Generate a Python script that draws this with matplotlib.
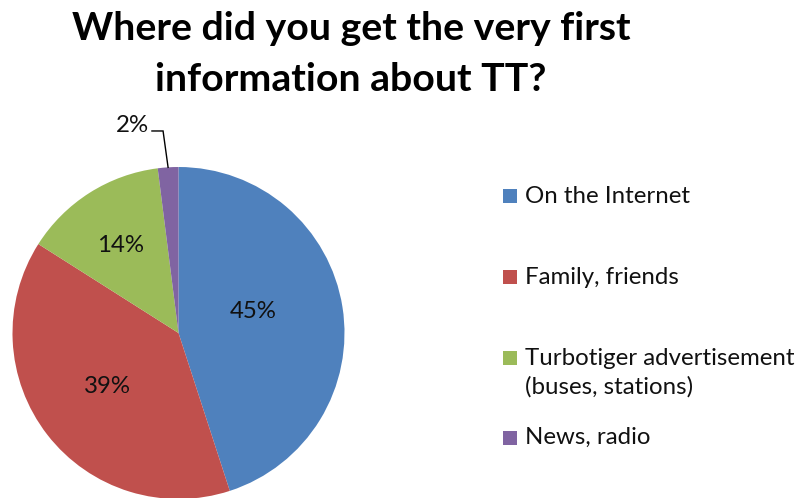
import matplotlib
matplotlib.use("Agg")
import matplotlib.pyplot as plt
from matplotlib.patches import Rectangle
import numpy as np

# Survey answers
categories = [
    "On the Internet",
    "Family, friends",
    "Turbotiger advertisement\n(buses, stations)",
    "News, radio",
]
shares = [45, 39, 14, 2]
colors = ["#4F81BD", "#C0504D", "#9BBB59", "#8064A2"]
title = "Where did you get the very first\ninformation about TT?"

FONT = "Lato"
W, H = 805, 498
fig = plt.figure(figsize=(W / 100, H / 100), dpi=100)
fig.patch.set_facecolor("white")


def fx(px):
    return px / W


def fy(py):
    return 1 - py / H


# Pie placement (pixels): centre and radius
cx, cy, r = 178.5, 333, 166
ax = fig.add_axes([fx(cx - r), fy(cy + r), 2 * r / W, 2 * r / H])
wedges, _ = ax.pie(shares, colors=colors, startangle=90, counterclock=False,
                   radius=1, wedgeprops=dict(linewidth=0))
ax.set_xlim(-1, 1)
ax.set_ylim(-1, 1)
ax.axis("off")

# Percentage labels (data units, pie radius = 1)
label_pos = [(0.449, 0.127), (-0.431, -0.325), (-0.352, 0.530), (-0.280, 1.253)]
lab_fs = 17.3
for v, (x, y) in zip(shares, label_pos):
    ax.text(x, y, f"{v}%", ha="center", va="center", fontsize=lab_fs,
            family=FONT, color="#111111", clip_on=False)

# Leader line for the small slice
th = np.deg2rad(90 - 360 * (sum(shares[:-1]) + shares[-1] / 2) / 100)
ex, ey = np.cos(th), np.sin(th)
ax.plot([-0.160, -0.093, ex], [1.217, 1.217, ey], color="black", lw=1.0,
        clip_on=False, solid_joinstyle="miter")

# Title
title_lines = title.split("\n")
for line, base in zip(title_lines, [40, 91]):
    fig.text(fx(351), fy(base), line, ha="center", va="baseline",
             fontsize=28.3, fontweight="bold", family=FONT, color="black")

# Legend
baselines = [203, 284, 365, 444]
box_centres = [196, 277, 358, 438]
sq = 14
for lab, col, b, c in zip(categories, colors, baselines, box_centres):
    fig.patches.append(Rectangle((fx(503), fy(c + sq / 2)), sq / W, sq / H,
                                 transform=fig.transFigure, facecolor=col,
                                 edgecolor="none"))
    for i, line in enumerate(lab.split("\n")):
        fig.text(fx(525), fy(b + 29 * i), line, ha="left", va="baseline",
                 fontsize=lab_fs, family=FONT, color="#111111")

fig.savefig("out.png", dpi=100)
